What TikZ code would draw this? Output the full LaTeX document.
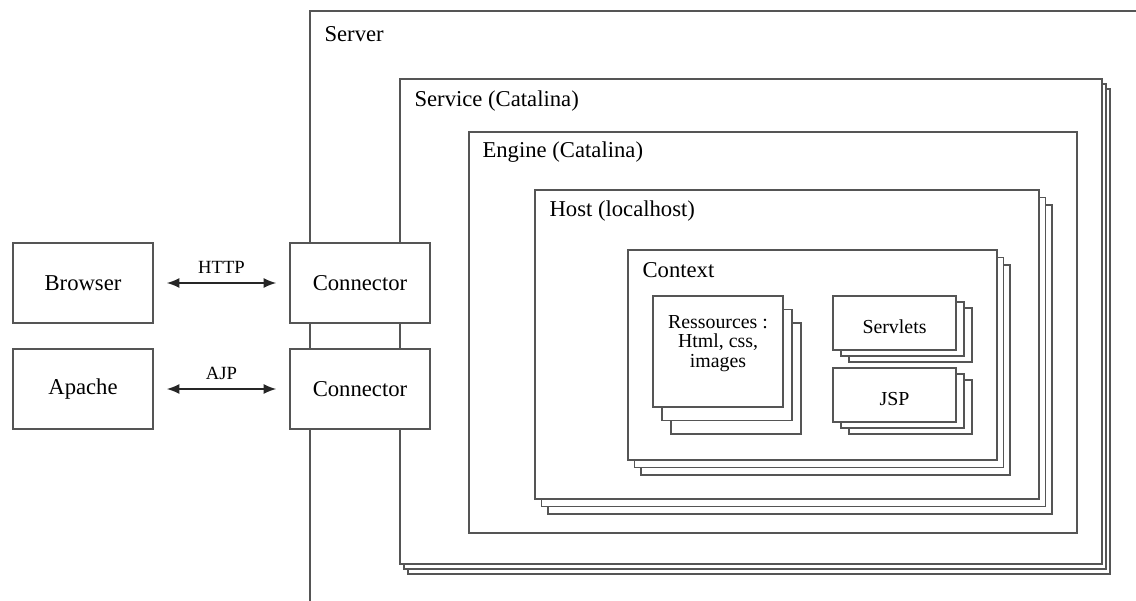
\documentclass[tikz,border=0pt]{standalone}
\usepackage{fontspec}
\setmainfont{Liberation Serif}
\usetikzlibrary{arrows.meta,positioning,fit,calc}
\definecolor{linegray}{HTML}{555555}
\tikzset{
  box/.style={rectangle, draw=linegray, line width=0.9pt, fill=white, inner sep=0pt},
  stack/.style 2 args={
    preaction={draw=linegray, fill=white, transform canvas={shift={(2*#1,2*#2)}}},
    preaction={draw=linegray, fill=white, transform canvas={shift={(#1,#2)}}}
  },
  title/.style={anchor=base west, inner sep=0pt, font=\fontsize{12.9}{15}\selectfont},
  endbox/.style={box, minimum width=2.8cm, minimum height=1.6cm, font=\fontsize{12.9}{15}\selectfont},
  smalltext/.style={inner sep=0pt, align=center, font=\fontsize{11.3}{10.9}\selectfont},
  link/.style={{Latex[length=2.5mm,width=2mm]}-{Latex[length=2.5mm,width=2mm]},
    line width=0.9pt, draw=black!85, shorten <=0.26cm, shorten >=0.26cm},
  linklabel/.style={inner sep=0pt, font=\fontsize{10.6}{12}\selectfont}
}

\begin{document}
\begin{tikzpicture}[x=0.02cm, y=-0.02cm]
\useasboundingbox (0,0) rectangle (1136,601);
\clip (0,0) rectangle (1136,601);

% nested containers
\node[box, fit={(310,11) (1250,700)}] (server) {};
\node[box, stack={4}{5}, fit={(400,79) (1102,564)}] (service) {};
\node[box, fit={(469,132) (1077,533)}] (engine) {};
\node[box, stack={6.5}{7.5}, fit={(535,190) (1039,499)}] (host) {};
\node[box, stack={6.5}{7.5}, fit={(628,250) (997,460)}] (context) {};

\node[title] (servertitle) at ($(server.north west)+(15,31)$) {Server};
\node[title] (servicetitle) at ($(service.north west)+(15,28)$) {Service (Catalina)};
\node[title] (enginetitle) at ($(engine.north west)+(14,26)$) {Engine (Catalina)};
\node[title] (hosttitle) at ($(host.north west)+(15,27)$) {Host (localhost)};
\node[title] (contexttitle) at ($(context.north west)+(15,28)$) {Context};

% contents of the context
\node[box, stack={9}{13.5}, fit={(653,296) (783,407)}] (res) {};
\node[smalltext] (restext) at ($(res.center)+(0,-8)$) {Ressources :\\Html, css,\\images};
\node[box, stack={8}{6}, fit={(833,296) (956,350)}] (servlets) {};
\node[smalltext] (servletstext) at ($(servlets.center)+(0,4)$) {Servlets};
\node[box, stack={8}{6}, fit={(833,368) (956,422)}] (jsp) {};
\node[smalltext] (jsptext) at ($(jsp.center)+(0,4)$) {JSP};

% clients and connectors
\node[endbox] (browser) at (83,283) {Browser};
\node[endbox] (apache) at (83,389) {Apache};
\node[endbox] (conn1) at (360,283) {Connector};
\node[endbox] (conn2) at (360,389) {Connector};

\draw[link] (browser) -- node[linklabel, above=5pt] (http) {HTTP} (conn1);
\draw[link] (apache) -- node[linklabel, above=5pt] (ajp) {AJP} (conn2);
\end{tikzpicture}
\end{document}
